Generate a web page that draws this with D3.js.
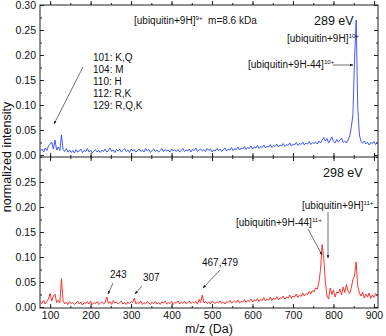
<!DOCTYPE html>
<html>
<head>
<meta charset="utf-8">
<script src="https://cdn.jsdelivr.net/npm/d3@7"></script>
<style>
  body { margin: 0; background: #fff; }
  text { font-family: "Liberation Sans", Arial, sans-serif; fill: #111; }
</style>
</head>
<body>
<div id="grafico"></div>
<script>
// spettri campionati ogni 4 Da a partire da 76 Da
var mzStart = 76;
var mzStep = 4;

// 289 eV (pannello in alto, blu)
var blu289 = [
  0.008,0.012,0.006,0.014,0.009,0.018,0.022,0.026,0.012,0.030,
  0.010,0.016,0.009,0.040,0.011,0.007,0.013,0.006,0.010,0.005,
  0.009,0.004,0.011,0.006,0.008,0.012,0.005,0.009,0.007,0.013,
  0.006,0.010,0.004,0.008,0.011,0.006,0.009,0.005,0.010,0.007,
  0.012,0.006,0.009,0.014,0.007,0.010,0.005,0.011,0.008,0.012,
  0.006,0.009,0.013,0.007,0.010,0.005,0.012,0.008,0.011,0.006,
  0.009,0.012,0.007,0.010,0.006,0.013,0.008,0.011,0.005,0.009,
  0.012,0.007,0.010,0.006,0.009,0.013,0.007,0.011,0.008,0.010,
  0.006,0.012,0.008,0.010,0.007,0.011,0.006,0.009,0.013,0.007,
  0.010,0.008,0.012,0.006,0.011,0.009,0.014,0.007,0.010,0.012,
  0.008,0.011,0.007,0.013,0.009,0.012,0.006,0.010,0.008,0.013,
  0.009,0.012,0.007,0.011,0.014,0.008,0.012,0.010,0.015,0.009,
  0.013,0.011,0.016,0.010,0.014,0.012,0.017,0.011,0.015,0.013,
  0.018,0.012,0.016,0.014,0.019,0.013,0.017,0.015,0.020,0.014,
  0.018,0.016,0.021,0.015,0.019,0.017,0.022,0.016,0.020,0.018,
  0.023,0.017,0.021,0.019,0.024,0.018,0.022,0.020,0.025,0.019,
  0.023,0.021,0.026,0.020,0.024,0.022,0.027,0.021,0.025,0.023,
  0.026,0.022,0.028,0.024,0.030,0.035,0.028,0.033,0.024,0.030,
  0.036,0.027,0.024,0.031,0.026,0.029,0.034,0.025,0.028,0.024,
  0.030,0.038,0.055,0.080,0.190,0.270,0.095,0.040,0.027,0.024,
  0.028,0.022,0.026,0.020,0.025,0.023,0.027,0.021,0.025
];

// 298 eV (pannello in basso, rosso)
var rosso298 = [
  0.010,0.007,0.013,0.006,0.011,0.016,0.027,0.012,0.022,0.026,
  0.009,0.014,0.008,0.057,0.012,0.006,0.010,0.005,0.011,0.007,
  0.009,0.005,0.008,0.012,0.006,0.010,0.004,0.009,0.007,0.011,
  0.006,0.012,0.005,0.009,0.007,0.011,0.005,0.008,0.010,0.006,
  0.009,0.020,0.007,0.011,0.005,0.013,0.008,0.010,0.006,0.009,
  0.012,0.006,0.009,0.005,0.010,0.007,0.011,0.009,0.018,0.006,
  0.010,0.007,0.012,0.005,0.009,0.006,0.011,0.008,0.005,0.010,
  0.007,0.011,0.006,0.009,0.005,0.010,0.008,0.012,0.006,0.009,
  0.007,0.011,0.005,0.009,0.008,0.012,0.006,0.010,0.007,0.011,
  0.006,0.009,0.012,0.007,0.010,0.008,0.011,0.006,0.015,0.009,
  0.024,0.008,0.011,0.007,0.010,0.006,0.012,0.009,0.007,0.011,
  0.008,0.012,0.007,0.010,0.006,0.011,0.009,0.013,0.008,0.010,
  0.012,0.009,0.014,0.008,0.011,0.010,0.015,0.009,0.013,0.011,
  0.016,0.010,0.014,0.012,0.017,0.011,0.015,0.013,0.019,0.012,
  0.016,0.014,0.020,0.013,0.018,0.015,0.021,0.014,0.019,0.017,
  0.022,0.016,0.020,0.018,0.024,0.017,0.022,0.020,0.026,0.019,
  0.024,0.021,0.028,0.022,0.027,0.025,0.031,0.026,0.033,0.030,
  0.038,0.036,0.048,0.075,0.125,0.098,0.050,0.022,0.016,0.038,
  0.025,0.034,0.020,0.030,0.028,0.036,0.024,0.040,0.029,0.045,
  0.032,0.027,0.038,0.055,0.062,0.090,0.042,0.028,0.022,0.030,
  0.018,0.026,0.020,0.028,0.017,0.024,0.019,0.027,0.022
];

var xTicks = [100, 200, 300, 400, 500, 600, 700, 800, 900];
var yTicksTop = [0, 0.05, 0.10, 0.15, 0.20, 0.25, 0.30];
var yTicksBot = [0, 0.05, 0.10, 0.15, 0.20, 0.25];
var residui = ["101: K,Q", "104: M", "110: H", "112: R,K", "129: R,Q,K"];

var W = 386, H = 336;
var left = 40, right = 378;
var top1 = 5, mid = 157, bot = 308;

var svg = d3.select("#grafico")
  .append("svg")
  .attr("width", W)
  .attr("height", H);

var x = d3.scaleLinear().domain([75, 910]).range([left, right]);
var yTop = d3.scaleLinear().domain([-0.004, 0.30]).range([mid, top1]);
var yBot = d3.scaleLinear().domain([-0.002, 0.30]).range([bot, mid]);

var minoriX = d3.range(50, 951, 50);
var fmt = d3.format(".2f");

function punti(valori) {
  return valori.map(function(v, i) { return [mzStart + i * mzStep, v]; });
}

svg.append("defs").append("marker")
  .attr("id", "freccia")
  .attr("viewBox", "0 0 10 10")
  .attr("refX", 9).attr("refY", 5)
  .attr("markerWidth", 5).attr("markerHeight", 5)
  .attr("orient", "auto")
  .append("path")
  .attr("d", "M0,1 L10,5 L0,9 Z")
  .attr("fill", "#222");

var clip = svg.select("defs");
clip.append("clipPath").attr("id", "clipTop")
  .append("rect").attr("x", left).attr("y", top1).attr("width", right - left).attr("height", mid - top1);
clip.append("clipPath").attr("id", "clipBot")
  .append("rect").attr("x", left).attr("y", mid).attr("width", right - left).attr("height", bot - mid);

// Disegno gli spettri
function spettro(valori, y, colore, clipId) {
  var linea = d3.line()
    .x(function(d) { return x(d[0]); })
    .y(function(d) { return y(d[1]); });
  svg.append("path")
    .datum(punti(valori))
    .attr("d", linea)
    .attr("clip-path", "url(#" + clipId + ")")
    .attr("fill", "none")
    .attr("stroke", colore)
    .attr("stroke-width", 0.9)
    .attr("stroke-linejoin", "round");
}
spettro(blu289, yTop, "#2d47ff", "clipTop");
spettro(rosso298, yBot, "#ff1e1e", "clipBot");

// Assi
function asse(gen, tx, ty, valori, size, conTesto, formato) {
  var g = svg.append("g")
    .attr("transform", "translate(" + tx + "," + ty + ")")
    .call(gen.tickValues(valori).tickSize(size).tickSizeOuter(0).tickPadding(4)
      .tickFormat(conTesto ? formato : ""));
  g.select(".domain").remove();
  g.selectAll("line").attr("stroke", "#222");
  g.selectAll("text").style("font-size", "10.5px").style("font-family", "Liberation Sans, Arial, sans-serif");
  return g;
}

var minoriTop = d3.range(0, 0.301, 0.025);
var minoriBot = d3.range(0, 0.301, 0.025);

// pannello in alto
asse(d3.axisLeft(yTop), left, 0, yTicksTop, -4, true, fmt);
asse(d3.axisLeft(yTop), left, 0, minoriTop, -2, false);
asse(d3.axisRight(yTop), right, 0, yTicksTop, -4, false);
asse(d3.axisRight(yTop), right, 0, minoriTop, -2, false);
asse(d3.axisTop(x), 0, mid, xTicks, -4, false);
asse(d3.axisTop(x), 0, mid, minoriX.filter(function(d) { return d > 75 && d < 910; }), -2, false);
asse(d3.axisBottom(x), 0, top1, xTicks, -4, false);
asse(d3.axisBottom(x), 0, top1, minoriX.filter(function(d) { return d > 75 && d < 910; }), -2, false);

// pannello in basso
asse(d3.axisLeft(yBot), left, 0, yTicksBot, -4, true, fmt);
asse(d3.axisLeft(yBot), left, 0, minoriBot, -2, false);
asse(d3.axisRight(yBot), right, 0, yTicksBot, -4, false);
asse(d3.axisRight(yBot), right, 0, minoriBot, -2, false);
asse(d3.axisBottom(x), 0, mid, xTicks, -4, false);
asse(d3.axisBottom(x), 0, mid, minoriX.filter(function(d) { return d > 75 && d < 910; }), -2, false);
asse(d3.axisBottom(x), 0, bot, xTicks, -4, true, d3.format("d"));
asse(d3.axisBottom(x), 0, bot, minoriX.filter(function(d) { return d > 75 && d < 910; }), -2, false);

// cornici
svg.append("rect").attr("x", left).attr("y", top1).attr("width", right - left).attr("height", bot - top1)
  .attr("fill", "none").attr("stroke", "#222").attr("stroke-width", 1);
svg.append("line").attr("x1", left).attr("x2", right).attr("y1", mid).attr("y2", mid)
  .attr("stroke", "#222").attr("stroke-width", 1);

// Titoli degli assi
svg.append("text")
  .attr("text-anchor", "middle")
  .attr("x", (left + right) / 2)
  .attr("y", 333)
  .style("font-size", "12.5px")
  .text("m/z (Da)");

svg.append("text")
  .attr("text-anchor", "middle")
  .attr("transform", "translate(11," + mid + ") rotate(-90)")
  .style("font-size", "12.5px")
  .text("normalized intensity");

// Etichette con apice
function etichetta(px, py, base, apice, resto, size) {
  var t = svg.append("text").attr("x", px).attr("y", py).style("font-size", size + "px");
  t.append("tspan").text(base);
  t.append("tspan").attr("dy", -4).style("font-size", (size * 0.62) + "px").text(apice);
  if (resto) t.append("tspan").attr("dy", 4).text(resto);
}
function freccia(x1, y1, x2, y2) {
  svg.append("line")
    .attr("x1", x1).attr("y1", y1).attr("x2", x2).attr("y2", y2)
    .attr("stroke", "#333").attr("stroke-width", 0.7)
    .attr("marker-end", "url(#freccia)");
}

etichetta(134, 24, "[ubiquitin+9H]", "9+", "\u00a0\u00a0m=8.6 kDa", 10);
svg.append("text").attr("x", 314).attr("y", 25).style("font-size", "12.5px").text("289 eV");
etichetta(287, 42, "[ubiquitin+9H]", "10+", null, 10);
etichetta(248, 68, "[ubiquitin+9H-44]", "10+", null, 10);
freccia(333, 65, 353, 65);

residui.forEach(function(r, i) {
  svg.append("text").attr("x", 93).attr("y", 61 + i * 12).style("font-size", "10px").text(r);
});
freccia(83, 67, 54, 124);

svg.append("text").attr("x", 323).attr("y", 177).style("font-size", "12.5px").text("298 eV");
etichetta(302, 209, "[ubiquitin+9H]", "11+", null, 10);
etichetta(236, 226, "[ubiquitin+9H-44]", "11+", null, 10);
freccia(308, 229, 322, 255);
freccia(328, 212, 328, 258);

svg.append("text").attr("x", 202).attr("y", 266).style("font-size", "10px").text("467,479");
freccia(220, 270, 203, 288);
svg.append("text").attr("x", 143).attr("y", 281).style("font-size", "10px").text("307");
freccia(142, 286, 135, 294);
svg.append("text").attr("x", 110).attr("y", 278).style("font-size", "10px").text("243");
freccia(113, 283, 108, 294);
</script>
</body>
</html>
